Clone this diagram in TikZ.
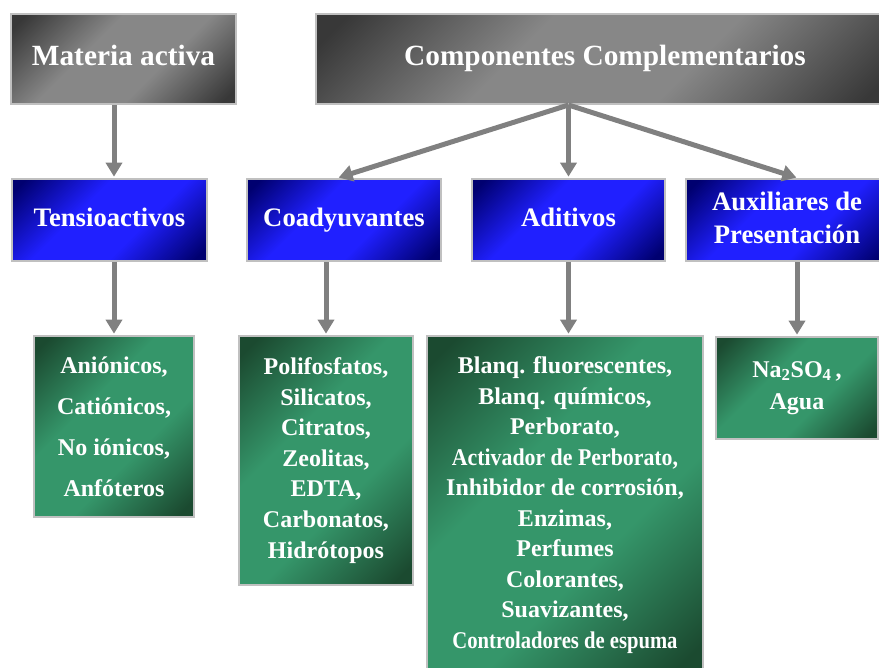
\documentclass[tikz,border=0pt]{standalone}
\usepackage{fontspec}
\setmainfont{Liberation Serif}
\usepackage{graphicx}
\usetikzlibrary{arrows.meta}
\definecolor{boxrim}{HTML}{C0C0C0}
\definecolor{greydark}{HTML}{383838}
\definecolor{greylight}{HTML}{878787}
\definecolor{bluedark}{HTML}{000070}
\definecolor{bluelight}{HTML}{2020FF}
\definecolor{greendark}{HTML}{1B4A30}
\definecolor{greenlight}{HTML}{35966A}
\definecolor{arrowgrey}{HTML}{808080}
\pgfdeclareverticalshading{greyshade}{100bp}{color(0bp)=(greydark); color(18bp)=(greydark);
  color(40bp)=(greylight); color(60bp)=(greylight); color(82bp)=(greydark); color(100bp)=(greydark)}
\pgfdeclareverticalshading{blueshade}{100bp}{color(0bp)=(bluedark); color(18bp)=(bluedark);
  color(40bp)=(bluelight); color(60bp)=(bluelight); color(82bp)=(bluedark); color(100bp)=(bluedark)}
\pgfdeclareverticalshading{greenshade}{100bp}{color(0bp)=(greendark); color(18bp)=(greendark);
  color(40bp)=(greenlight); color(60bp)=(greenlight); color(82bp)=(greendark); color(100bp)=(greendark)}

\begin{document}
\begin{tikzpicture}[x=0.75pt, y=-0.75pt,
    box/.style={draw=boxrim, line width=1.5pt, inner sep=0pt, text=white, align=center,
      shading angle=45},
    headbox/.style={box, shading=greyshade, font=\fontsize{22}{26}\selectfont\bfseries},
    groupbox/.style={box, shading=blueshade, font=\fontsize{20}{24.75}\selectfont\bfseries},
    itembox/.style={box, shading=greenshade, font=\fontsize{18}{22.9}\selectfont\bfseries},
    link/.style={draw=arrowgrey, line width=3.75pt, shorten >=1pt,
      -{Triangle[width=12pt,length=10.5pt]}}]
  \useasboundingbox (0,0) rectangle (879,668);
  % top level
  \node[headbox, minimum width=168.75pt, minimum height=67.5pt] (materia) at (123.5,59) {Materia activa\strut};
  \node[headbox, minimum width=433.5pt, minimum height=67.5pt] (comp) at (605,59) {Componentes Complementarios\strut};
  % groups
  \node[groupbox, minimum width=146.25pt, minimum height=61.5pt] (tens) at (109.5,220) {Tensioactivos\strut};
  \node[groupbox, minimum width=145.5pt, minimum height=61.5pt] (coad) at (344,220) {Coadyuvantes\strut};
  \node[groupbox, minimum width=144.75pt, minimum height=61.5pt] (adit) at (568.5,220) {Aditivos\strut};
  \node[groupbox, minimum width=151.5pt, minimum height=61.5pt] (aux) at (787,220) {Auxiliares de\strut\\Presentación\strut};
  % items
  \node[itembox, font=\fontsize{18}{30.75}\selectfont\bfseries,
    minimum width=120pt, minimum height=135.75pt] (anion) at (114,426.5)
    {Aniónicos,\\Catiónicos,\\No iónicos,\\Anfóteros};
  \node[itembox, minimum width=130.5pt, minimum height=186.75pt] (poli) at (326,460.5)
    {Polifosfatos,\\Silicatos,\\Citratos,\\Zeolitas,\\EDTA,\\Carbonatos,\\Hidrótopos};
  \node[itembox, minimum width=207pt, minimum height=253.5pt] (blanq) at (565,505)
    {Blanq. fluorescentes,\\Blanq. químicos,\\Perborato,\\
     \scalebox{0.91}[1]{Activador de Perborato,}\\Inhibidor de corrosión,\\Enzimas,\\
     Perfumes\\Colorantes,\\Suavizantes,\\\scalebox{0.86}[1]{Controladores de espuma}};
  \node[itembox, font=\fontsize{18}{23.8}\selectfont\bfseries,
    minimum width=121.5pt, minimum height=76.5pt] (na) at (797,388)
    {Na\textsubscript{2}SO\textsubscript{4}\,,\\Agua};
  % connectors
  \coordinate (hub) at (adit.north |- comp.south);
  \draw[link] (materia.south -| anion.north) -- (tens.north -| anion.north);
  \draw[link] (tens.south -| anion.north) -- (anion.north);
  \draw[link] (hub) -- ([xshift=-5pt]coad.north);
  \draw[link] (hub) -- (adit.north);
  \draw[link] (hub) -- ([xshift=8pt]aux.north);
  \draw[link] (coad.south -| poli.north) -- (poli.north);
  \draw[link] (adit.south) -- (adit.south |- blanq.north);
  \draw[link] (aux.south -| na.north) -- (na.north);
\end{tikzpicture}
\end{document}
